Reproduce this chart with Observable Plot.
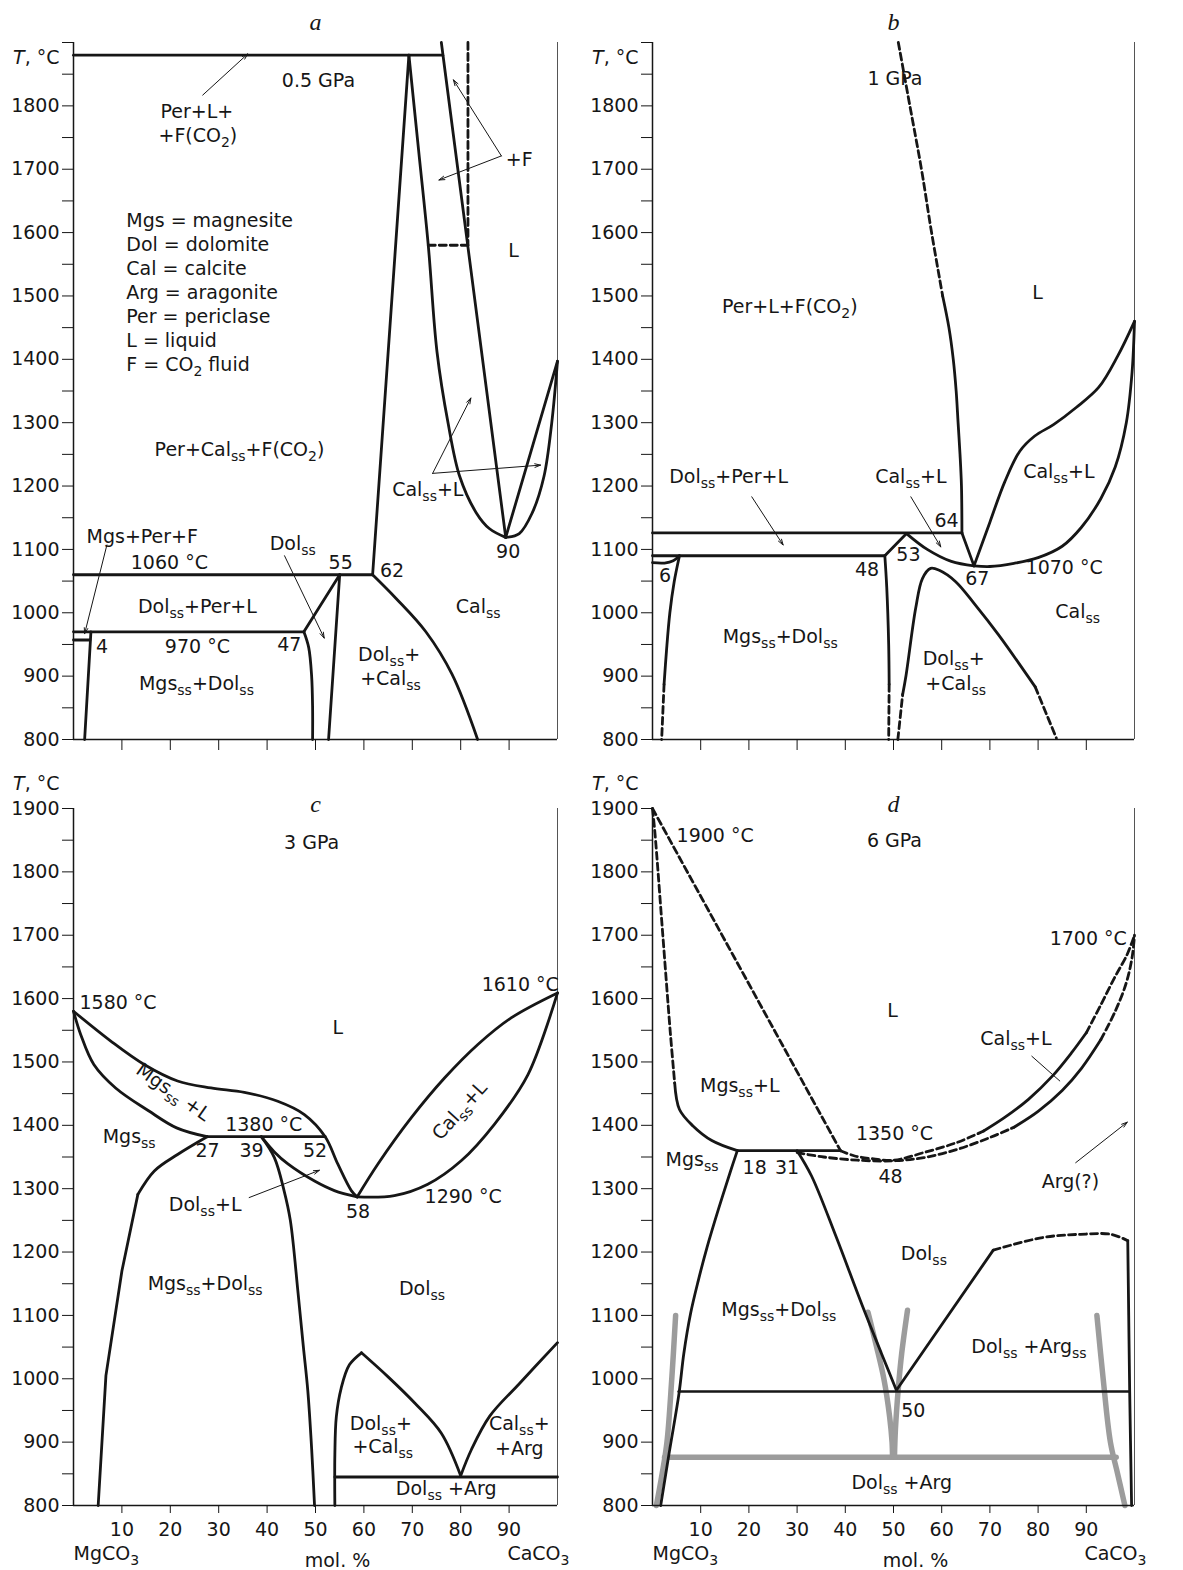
<!DOCTYPE html>
<html><head><meta charset="utf-8">
<script src="https://cdn.jsdelivr.net/npm/d3@7"></script>
<script src="https://cdn.jsdelivr.net/npm/@observablehq/plot@0.6"></script>
<style>
body{margin:0;background:#fff;}
#fig{position:relative;width:1183px;height:1570px;background:#fff;overflow:hidden;}
#fig svg{position:absolute;}
</style></head><body><div id="fig"></div>
<script>
// ================= DATA (x = mol.% CaCO3, y = T °C) =================
const yTicks = d3.range(800, 1901, 50);
const xTicks = d3.range(10, 100, 10);

// ---- Panel a : 0.5 GPa ----
const aTop = [[0,1880],[76.3,1880]];
const aSlant = [[76,1900],[89.3,1119]];
const aFluidV = [[81.5,1900],[81.5,1580]];
const aFluidH = [[73.3,1580],[81.5,1580]];
const aDolPeak = [[61.8,1060],[69.3,1880]];
const aPeakDown = [[69.3,1880],[71.3,1730],[73.3,1580],[75.1,1412],[77.4,1299],[79.8,1215],[83.2,1158],[85.9,1133],[89.3,1119]];
const aURight = [[89.3,1119],[92.1,1125],[94.8,1158],[97.2,1215],[98.8,1299],[100,1397]];
const aVRight = [[89.3,1119],[100,1397]];
const a1060 = [[0,1060],[61.8,1060]];
const a970 = [[0,970],[47.6,970]];
const a957 = [[0,957],[3.4,957]];
const aMgsSolvus = [[3.6,970],[2.3,800]];
const aDolUp = [[47.6,970],[55,1060]];
const aDolDown = [[55,1060],[52.7,800]];
const aDol47 = [[47.6,970],[48.6,945],[49.2,900],[49.4,850],[49.4,800]];
const aCalSolvus = [[61.8,1060],[66.6,1023],[72.8,970],[78.2,903],[83.5,800]];
const aLabels = [
  [50.6,1839,"0.5 GPa"],[25.5,1790,"Per+L+"],[25.7,1752,"+F(CO_{2})"],[92.1,1715,"+F"],
  [90.9,1571,"L"],[34.3,1257,"Per+Cal_{ss}+F(CO_{2})"],[73.2,1194,"Cal_{ss}+L"],
  [89.8,1096,"90"],[65.8,1066,"62"],[55.2,1078,"55"],[45.3,1108,"Dol_{ss}"],
  [14.2,1120,"Mgs+Per+F"],[19.8,1078,"1060 °C"],[25.6,1010,"Dol_{ss}+Per+L"],
  [5.9,946,"4"],[25.6,946,"970 °C"],[44.6,949,"47"],[25.4,888,"Mgs_{ss}+Dol_{ss}"],
  [65.2,933,"Dol_{ss}+"],[65.5,896,"+Cal_{ss}"],[83.6,1009,"Cal_{ss}"]
];
const aLegend = [
  [10.9,1619,"Mgs = magnesite"],[10.9,1581,"Dol = dolomite"],[10.9,1543,"Cal = calcite"],
  [10.9,1505,"Arg = aragonite"],[10.9,1467,"Per = periclase"],[10.9,1429,"L = liquid"],
  [10.9,1391,"F = CO_{2} fluid"]
];
const aArrows = [
  [26.7,1817,36,1882],[88.4,1721,78.5,1841],[88.4,1721,75.5,1683],
  [74.2,1220,82.1,1339],[74.2,1220,96.5,1233],[43.6,1090,51.8,960],[6.9,1107,2.3,967]
];

// ---- Panel b : 1 GPa ----
const bH1126 = [[0,1126],[64.2,1126]];
const bH1090 = [[0,1090],[48.2,1090]];
const bArc6 = [[0,1079],[2.5,1078.5],[4.3,1082],[5.6,1090]];
const bMgsSolid = [[5.6,1090],[4.5,1049],[3.6,1000],[2.9,940],[2.4,887]];
const bMgsDash = [[2.4,887],[1.9,800]];
const b48Solid = [[48.2,1090],[48.6,1040],[49,950],[49.1,887]];
const b48Dash = [[49.1,887],[49,800]];
const b48to53 = [[48.2,1090],[52.7,1125]];
const bDolLiq = [[52.7,1125],[57,1100],[62,1081],[66.7,1074]];
const b64to67 = [[64.2,1126],[66.7,1074]];
const bLiqDash = [[51,1900],[53.4,1800],[55.8,1700],[57.9,1600],[60.2,1500]];
const bLiqSolid = [[60.2,1500],[61.5,1450],[62.4,1400],[63,1350],[63.4,1300],[63.8,1250],[64.1,1200],[64.2,1126]];
const bCalLiq = [[66.7,1074],[70,1143],[73.1,1207],[76.2,1255],[79.3,1279],[83.2,1297],[87.9,1324],[92.6,1356],[96.5,1405],[100,1460]];
const bCalSol = [[66.7,1074],[70,1073],[75,1078],[80,1087],[85,1105],[89,1135],[93,1180],[96,1230],[98.3,1300],[99.5,1380],[100,1460]];
const bDomeDashL = [[50.9,800],[51.9,871]];
const bDomeSolid = [[51.9,871],[52.6,901],[54.6,1007],[56,1054],[57.7,1070],[59.5,1067],[62.9,1049],[67,1012],[71.8,965],[79.4,883]];
const bDomeDashR = [[79.4,883],[83.8,802]];
const bLabels = [
  [50.3,1843,"1 GPa"],[28.5,1482,"Per+L+F(CO_{2})"],[79.9,1505,"L"],
  [15.8,1215,"Dol_{ss}+Per+L"],[53.6,1215,"Cal_{ss}+L"],[84.3,1222,"Cal_{ss}+L"],
  [61,1145,"64"],[53.1,1091,"53"],[44.5,1068,"48"],[2.6,1058,"6"],[67.4,1053,"67"],
  [85.4,1071,"1070 °C"],[88.2,1002,"Cal_{ss}"],[26.5,962,"Mgs_{ss}+Dol_{ss}"],
  [62.5,927,"Dol_{ss}+"],[62.9,888,"+Cal_{ss}"]
];
const bArrows = [[20.6,1183,27.1,1107],[53.6,1183,59.8,1104]];

// ---- Panel c : 3 GPa ----
const cMgsLiq = [[0,1580],[7.7,1533],[14.6,1496],[21.5,1470],[28.4,1459],[35.3,1452],[42.2,1438],[47.7,1417],[52,1382],[54.6,1339],[57.4,1297],[58.6,1287]];
const cMgsSol = [[0,1580],[1.5,1543],[4.2,1496],[8.7,1459],[15.5,1423],[21.3,1396],[27.6,1382]];
const cH1380 = [[27.6,1382],[52,1382]];
const cMgsSolvusTop = [[27.6,1382],[21.5,1354],[16.7,1328],[13.3,1291]];
const cMgsSolvusLow = [[13.3,1291],[10,1170],[6.7,1005],[5.1,800]];
const cDolSolvus = [[38.8,1382],[41.5,1349],[43.5,1297],[44.8,1250],[46.4,1135],[47.5,1050],[48.4,982],[49.2,890],[49.8,800]];
const cDolLiq = [[38.8,1382],[41.5,1358],[44.3,1339],[49.8,1312],[53.9,1297],[58.6,1287]];
const cCalLiq = [[58.6,1287],[62.9,1339],[69.8,1412],[76.7,1475],[83.6,1528],[90.5,1570],[100,1609]];
const cCalSol = [[58.6,1287],[66.3,1289],[73.2,1307],[80.1,1344],[87,1402],[93.9,1480],[100,1609]];
const cDomeL = [[54,800],[54,880],[54.3,940],[55.3,985],[57,1022],[59.5,1041]];
const cDomeR = [[59.5,1041],[65,1003],[70.6,961],[76,914],[80,847]];
const cCalArg = [[80,847],[82.2,888],[86,941],[92.2,993],[100,1057]];
const cH845 = [[54,845],[100,845]];
const cLabels = [
  [49.2,1846,"3 GPa"],[9.2,1593,"1580 °C"],[92.3,1622,"1610 °C"],[54.6,1554,"L"],
  [39.3,1401,"1380 °C"],[11.5,1381,"Mgs_{ss}"],[27.7,1359,"27"],[36.8,1359,"39"],
  [49.9,1360,"52"],[27.2,1275,"Dol_{ss}+L"],[58.8,1263,"58"],[80.5,1287,"1290 °C"],
  [27.2,1150,"Mgs_{ss}+Dol_{ss}"],[72,1142,"Dol_{ss}"],[63.5,929,"Dol_{ss}+"],
  [63.9,892,"+Cal_{ss}"],[92.1,929,"Cal_{ss}+"],[92.1,890,"+Arg"],[77,826,"Dol_{ss} +Arg"]
];
const cRotLabels = [[20.6,1452,"Mgs_{ss} +L",35],[79.8,1423,"Cal_{ss}+L",-48]];
const cArrows = [[36.3,1286,50.8,1329]];

// ---- Panel d : 6 GPa ----
const dDashDiag = [[0,1900],[39,1360]];
const dMgsLiqDash = [[0,1900],[0.5,1862],[2.1,1704],[3.7,1546],[4.6,1467]];
const dMgsLiqSolid = [[4.6,1467],[5.6,1425],[8.4,1399],[12.3,1376],[17.6,1360]];
const dH1360 = [[17.6,1360],[39,1360]];
const dCalLiqDash1 = [[39,1360],[41.8,1352],[45.9,1347],[50.1,1345],[56.3,1357],[63.2,1373],[68.7,1391]];
const dCalLiqSolid = [[68.7,1391],[73,1412],[78,1441],[83,1478],[87,1515],[90,1546]];
const dCalLiqDash2 = [[90,1546],[93,1590],[96,1635],[98.5,1670],[100,1700]];
const dCalSolDash1 = [[30,1357],[35.5,1350],[42.5,1345],[50.1,1344],[56.3,1349],[63.2,1362],[70.1,1381],[75,1397]];
const dCalSolSolid = [[75,1397],[80,1422],[85,1455],[89,1490],[93,1535]];
const dCalSolDash2 = [[93,1535],[96,1580],[98.3,1625],[99.5,1665],[100,1700]];
const dMgsSolvus = [[17.6,1360],[16.2,1328],[13.7,1268],[11.3,1207],[9.5,1155],[7.9,1103],[6.5,1040],[5.5,977],[3.5,885],[1.7,800]];
const dDolSolvus = [[30,1360],[33,1320],[38,1226],[43.5,1116],[47.5,1040],[50.6,982]];
const dVRight = [[50.6,982],[70.7,1203]];
const dDashTop = [[70.7,1203],[81,1223],[88.8,1228],[95.1,1228],[98.6,1218]];
const dArgSolvus = [[98.6,1218],[98.8,1100],[99,980],[99.4,800]];
const dH980 = [[5.4,980],[99,980]];
const dGrayH = [[2.5,876],[96.2,876]];
const dGrayL = [[4.8,1100],[4,1000],[3,900],[2,850],[0.8,800]];
const dGrayR = [[92.2,1100],[93.5,1000],[95,900],[96.5,850],[98,800]];
const dGrayML = [[44.7,1105],[46.5,1050],[48,1000],[49.2,940],[49.7,900],[49.8,876]];
const dGrayMR = [[52.9,1108],[51.7,1040],[51,985],[50.4,920],[50.2,876]];
const dLeader = [[78.7,1509],[84.5,1470]];
const dLabels = [
  [50.2,1849,"6 GPa"],[13,1856,"1900 °C"],[49.8,1580,"L"],[90.4,1694,"1700 °C"],
  [75.4,1536,"Cal_{ss}+L"],[18.1,1462,"Mgs_{ss}+L"],[50.2,1386,"1350 °C"],
  [8.2,1346,"Mgs_{ss}"],[21.2,1333,"18"],[27.9,1333,"31"],[49.4,1318,"48"],
  [86.7,1310,"Arg(?)"],[56.3,1197,"Dol_{ss}"],[26.2,1108,"Mgs_{ss}+Dol_{ss}"],
  [78.1,1050,"Dol_{ss} +Arg_{ss}"],[54.1,950,"50"],[51.7,835,"Dol_{ss} +Arg"]
];
const dArrows = [[87.8,1341,98.5,1405]];

// ================= RENDERING =================
const INK = "#161616";
const FONT = "'DejaVu Sans', sans-serif";
const FS = 19;
const NS = "http://www.w3.org/2000/svg";

function ln(data, {curve = "linear", dash = false, width = 2.8, color = INK} = {}) {
  return Plot.line(data, {x: d => d[0], y: d => d[1], stroke: color, strokeWidth: width,
    curve, strokeDasharray: dash ? "7,4" : null, strokeLinejoin: "round"});
}
function txt(data, extra = {}) {
  return Plot.text(data, {x: d => d[0], y: d => d[1], text: d => d[2], fontSize: FS, fill: INK, ...extra});
}
function arrows(data) {
  return Plot.arrow(data, {x1: d => d[0], y1: d => d[1], x2: d => d[2], y2: d => d[3],
    stroke: INK, strokeWidth: 1, headLength: 9, headAngle: 35});
}

function markup(svg) {
  svg.querySelectorAll("text").forEach(t => {
    if (t.querySelector("tspan")) return;
    const s = t.textContent;
    if (!/[_\/]\{/.test(s)) return;
    t.textContent = "";
    const parts = s.split(/(_\{[^}]*\}|\/\{[^}]*\})/).filter(Boolean);
    let down = false;
    for (const p of parts) {
      const ts = document.createElementNS(NS, "tspan");
      if (p.startsWith("_{")) {
        ts.textContent = p.slice(2, -1);
        ts.setAttribute("font-size", "14");
        if (!down) { ts.setAttribute("dy", "5"); down = true; }
      } else {
        ts.textContent = p.startsWith("/{") ? p.slice(2, -1) : p;
        if (p.startsWith("/{")) ts.setAttribute("font-style", "italic");
        if (down) { ts.setAttribute("dy", "-5"); down = false; }
      }
      t.appendChild(ts);
    }
  });
}

function panel(cfg) {
  const marks = [];
  (cfg.gray || []).forEach(g => marks.push(ln(g.d, {curve: g.curve || "linear", width: 5.5, color: "#9c9c9c"})));
  marks.push(Plot.ruleX([100], {y1: 800, y2: 1900, stroke: "#555", strokeWidth: 1}));
  marks.push(Plot.ruleX([0], {y1: 800, y2: 1900, stroke: INK, strokeWidth: 1.5}));
  marks.push(Plot.ruleY([800], {x1: 0, x2: 100, stroke: INK, strokeWidth: 1.5}));
  marks.push(Plot.axisY(yTicks, {tickSize: 11, tickPadding: 3, label: null, fontSize: FS,
    tickFormat: d => (d % 100 === 0 && (cfg.show1900 || d < 1900)) ? String(d) : ""}));
  marks.push(Plot.axisX(xTicks, {tickSize: cfg.xLabels ? 8 : 11, tickPadding: 9, label: null, fontSize: FS,
    tickFormat: d => cfg.xLabels ? String(d) : ""}));
  cfg.lines.forEach(l => marks.push(ln(l.d, l)));
  marks.push(txt(cfg.labels));
  if (cfg.legend) marks.push(txt(cfg.legend, {textAnchor: "start"}));
  if (cfg.rot) marks.push(txt(cfg.rot, {rotate: d => d[3]}));
  if (cfg.arrows) marks.push(arrows(cfg.arrows));
  marks.push(Plot.text([cfg.letter], {text: d => d, frameAnchor: "top", lineAnchor: "middle", dy: cfg.letterDy,
    fontFamily: "'Liberation Serif', serif", fontStyle: "italic", fontSize: 24, fill: INK}));
  marks.push(Plot.text(["/{T}, °C"], {text: d => d, frameAnchor: "top-left", lineAnchor: "middle", textAnchor: "end",
    dx: -14, dy: cfg.tDy, fontSize: FS, fill: INK}));
  if (cfg.xLabels) {
    marks.push(Plot.text(["MgCO_{3}"], {text: d => d, frameAnchor: "bottom-left", lineAnchor: "middle", dx: cfg.mgDx, dy: 48, fontSize: FS, fill: INK}));
    marks.push(Plot.text(["mol. %"], {text: d => d, frameAnchor: "bottom", lineAnchor: "middle", dx: 22, dy: 55, fontSize: FS, fill: INK}));
    marks.push(Plot.text(["CaCO_{3}"], {text: d => d, frameAnchor: "bottom-right", lineAnchor: "middle", dx: 12, dy: 48, fontSize: FS, fill: INK}));
  }
  const svg = Plot.plot({
    width: cfg.width, height: cfg.height,
    marginLeft: 73, marginRight: cfg.width - 73 - cfg.plotW, marginTop: 42, marginBottom: cfg.height - 42 - 697,
    x: {domain: [0, 100]}, y: {domain: [800, 1900]},
    style: {fontFamily: FONT, fontSize: FS + "px", background: "transparent", color: INK, overflow: "visible"},
    marks
  });
  markup(svg);
  svg.style.position = "absolute";
  svg.style.left = cfg.left + "px";
  svg.style.top = cfg.top + "px";
  document.getElementById("fig").appendChild(svg);
}

const S = (d, curve = "linear") => ({d, curve});
const D = (d, curve = "linear") => ({d, curve, dash: true});

panel({
  left: 0, top: 0, width: 600, height: 785, plotW: 484, letter: "a", letterDy: -20, tDy: 15,
  lines: [S(aTop), S(aSlant), S(aDolPeak), S(aVRight), S(a1060), S(a970), S(a957), S(aMgsSolvus),
    S(aDolUp), S(aDolDown), S(aPeakDown, "catmull-rom"), S(aURight, "catmull-rom"),
    S(aDol47, "catmull-rom"), S(aCalSolvus, "catmull-rom"), D(aFluidV), D(aFluidH)],
  labels: aLabels, legend: aLegend, arrows: aArrows
});
panel({
  left: 579, top: 0, width: 600, height: 785, plotW: 482, letter: "b", letterDy: -20, tDy: 15,
  lines: [S(bH1126), S(bH1090), S(b48to53), S(b64to67), S(bArc6, "catmull-rom"), S(bMgsSolid, "catmull-rom"),
    S(b48Solid, "catmull-rom"), S(bDolLiq, "catmull-rom"), S(bLiqSolid, "catmull-rom"), S(bCalLiq, "catmull-rom"),
    S(bCalSol, "catmull-rom"), S(bDomeSolid, "catmull-rom"), D(bMgsDash), D(b48Dash), D(bDomeDashL), D(bDomeDashR),
    D(bLiqDash, "catmull-rom")],
  labels: bLabels, arrows: bArrows
});
panel({
  left: 0, top: 766, width: 600, height: 804, plotW: 484, letter: "c", letterDy: -4, tDy: -25,
  show1900: true, xLabels: true, mgDx: 0,
  lines: [S(cH1380), S(cH845), S(cMgsSolvusLow), S(cMgsLiq, "catmull-rom"), S(cMgsSol, "catmull-rom"),
    S(cMgsSolvusTop, "catmull-rom"), S(cDolSolvus, "catmull-rom"), S(cDolLiq, "catmull-rom"),
    S(cCalLiq, "catmull-rom"), S(cCalSol, "catmull-rom"), S(cDomeL, "catmull-rom"), S(cDomeR, "catmull-rom"),
    S(cCalArg, "catmull-rom")],
  labels: cLabels, rot: cRotLabels, arrows: cArrows
});
panel({
  left: 579, top: 766, width: 600, height: 804, plotW: 482, letter: "d", letterDy: -4, tDy: -25,
  show1900: true, xLabels: true, mgDx: 0,
  gray: [{d: dGrayH}, {d: dGrayL, curve: "catmull-rom"}, {d: dGrayR, curve: "catmull-rom"},
    {d: dGrayML, curve: "catmull-rom"}, {d: dGrayMR, curve: "catmull-rom"}],
  lines: [S(dH1360), S(dVRight), {d: dH980, width: 2.4}, S(dMgsLiqSolid, "catmull-rom"),
    S(dCalLiqSolid, "catmull-rom"), S(dCalSolSolid, "catmull-rom"), S(dMgsSolvus, "catmull-rom"),
    S(dDolSolvus, "catmull-rom"), S(dArgSolvus, "catmull-rom"), D(dDashDiag), D(dMgsLiqDash, "catmull-rom"),
    D(dCalLiqDash1, "catmull-rom"), D(dCalLiqDash2, "catmull-rom"), D(dCalSolDash1, "catmull-rom"),
    D(dCalSolDash2, "catmull-rom"), D(dDashTop, "catmull-rom"), {d: dLeader, width: 1}],
  labels: dLabels, arrows: dArrows
});
</script></body></html>
